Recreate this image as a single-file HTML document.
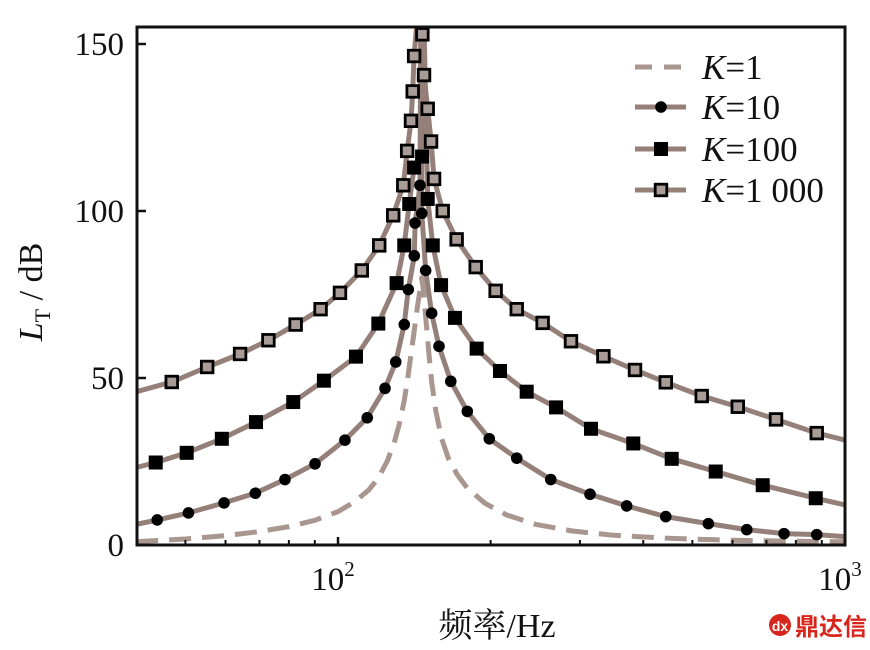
<!DOCTYPE html>
<html><head><meta charset="utf-8"><style>
html,body{margin:0;padding:0;background:#fff;}
svg{display:block;font-family:"Liberation Serif","Noto Serif CJK SC",serif;}
</style></head><body>
<svg id="chart" width="870" height="650" viewBox="0 0 870 650">
<defs><clipPath id="plotclip"><rect x="137" y="27" width="708" height="518"/></clipPath></defs>
<g id="series" clip-path="url(#plotclip)"></g>
<rect x="137" y="27" width="708" height="518" fill="none" stroke="#111" stroke-width="3"/>
<g id="axes"></g>
<text x="497" y="637" font-size="34" text-anchor="middle" fill="#111">频率/Hz</text>
<text transform="translate(42,292) rotate(-90)" font-size="34" text-anchor="middle" fill="#111"><tspan font-style="italic">L</tspan><tspan font-size="22" dy="8">T</tspan><tspan dy="-8"> / dB</tspan></text>
<g id="legend"></g>
<g>
<circle cx="780" cy="625" r="11" fill="#d9261c"/>
<text x="780" y="631" font-size="14" text-anchor="middle" fill="#fff" font-family="Liberation Sans, sans-serif" font-weight="bold">dx</text>
<text x="795" y="635" font-size="24" fill="#d9261c" font-weight="bold" font-family="Liberation Sans, Noto Sans CJK SC, sans-serif">鼎达信</text>
</g>
</svg>
<script>
const xTicks = [100, 1000];
const xTickLabels = ["10", "10"];
const yTicks = [0, 50, 100, 150];
const yTickLabels = ["0", "50", "100", "150"];
const minorTicks = [50, 60, 70, 80, 90, 200, 300, 400, 500, 600, 700, 800, 900];

const k1Freq = [40, 50, 60, 70, 80, 90, 100, 108, 115, 120, 125, 129, 132, 135, 137, 139, 141, 143, 145, 146.2, 147.5, 149, 151, 153, 156, 160, 165, 172, 180, 195, 215, 245, 290, 350, 450, 600, 800, 1000];
const k1Vals = [1.0, 1.8, 2.8, 4.0, 5.5, 7.4, 10.0, 13.0, 16.5, 20.0, 25.0, 30.5, 36.0, 43.0, 49.0, 56.0, 63.0, 70.0, 76.0, 80, 76.0, 68.0, 58.0, 49.0, 40.0, 32.0, 26.0, 21.0, 17.0, 12.5, 9.0, 6.2, 4.2, 2.9, 2.0, 1.4, 1.1, 1.0];

const k10Freq = [44.0, 50.7, 59.6, 68.7, 78.6, 90.1, 103.2, 114.2, 123.8, 130.0, 135.1, 137.6, 141.4, 141.9, 145.1, 146.3, 148.9, 153.0, 158.2, 166.9, 179.9, 198.8, 225.2, 262.8, 314.1, 371.0, 443.1, 537.6, 640.1, 758.1, 879.6];
const k10Vals = [7.5, 9.6, 12.6, 15.5, 19.6, 24.3, 31.4, 38.1, 46.9, 54.8, 66.0, 76.5, 86.6, 96.4, 107.7, 99.3, 82.2, 69.4, 59.5, 49.0, 40.0, 31.8, 26.0, 19.6, 15.2, 11.7, 8.5, 6.4, 4.6, 3.4, 3.1];
const k10Edge = [6.2, 2.5];

const k100Freq = [43.7, 50.3, 59.0, 68.9, 81.6, 93.8, 108.5, 120.1, 130.5, 135.1, 138.2, 141.3, 146.5, 150.3, 153.8, 159.7, 170.1, 187.7, 208.7, 235.6, 269.2, 315.5, 382.3, 455.2, 555.9, 688.2, 875.6];
const k100Vals = [24.7, 27.6, 31.8, 36.8, 42.8, 49.2, 56.4, 66.3, 78.4, 89.7, 102.1, 113.0, 116.3, 103.6, 89.7, 77.8, 68.0, 58.8, 52.1, 45.9, 41.2, 34.8, 30.4, 25.8, 22.0, 17.9, 14.0];
const k100Edge = [23.2, 12.0];

const k1000Freq = [47.0, 55.2, 64.1, 72.9, 82.5, 92.4, 100.9, 111.4, 120.6, 128.5, 134.5, 136.9, 139.3, 140.4, 141.3, 146.7, 147.8, 150.3, 152.6, 154.7, 160.9, 171.4, 186.9, 204.6, 225.2, 253.3, 288.1, 333.8, 385.3, 443.1, 521.7, 614.5, 731.0, 879.6];
const k1000Vals = [48.8, 53.3, 57.2, 61.3, 66.0, 70.6, 75.5, 82.2, 89.7, 98.7, 107.7, 118.0, 127.0, 135.8, 146.4, 152.9, 140.7, 130.6, 120.8, 109.6, 100.0, 91.5, 83.2, 76.1, 70.6, 66.5, 61.0, 56.5, 52.4, 48.7, 44.6, 41.4, 37.6, 33.5];
const k1000Edge = [45.9, 31.4];

const legendLabels = ["1", "10", "100", "1 000"];

const X0 = 338, DEC = 507, Y0 = 545, YS = 167 / 50;
function xScale(f) { return X0 + (Math.log10(f) - 2) * DEC; }
function yScale(v) { return Y0 - v * YS; }
const NS = "http://www.w3.org/2000/svg";
function mk(tag, attrs, parent) {
  const e = document.createElementNS(NS, tag);
  for (const k in attrs) e.setAttribute(k, attrs[k]);
  parent.appendChild(e);
  return e;
}
const LINE = "#948079";
const DASH = "#a8968f";
const seriesG = document.getElementById("series");
const axesG = document.getElementById("axes");
const legendG = document.getElementById("legend");

yTicks.forEach((t, i) => {
  const y = yScale(t);
  if (t > 0) {
    const tk = mk("line", {x1: 137, x2: 146, y1: y, y2: y, stroke: "#111", "stroke-width": 2.5}, axesG);
    
    
  }
  const lb = mk("text", {x: 124, y: y + 11, "font-size": 33, "text-anchor": "end", fill: "#111"}, axesG);
  lb.textContent = yTickLabels[i];
  
  
});
minorTicks.forEach(f => {
  const x = xScale(f);
  const tk = mk("line", {x1: x, x2: x, y1: 545, y2: 540, stroke: "#111", "stroke-width": 2}, axesG);
  
  
});
xTicks.forEach((t, i) => {
  const x = xScale(t);
  const tk = mk("line", {x1: x, x2: x, y1: 545, y2: 537, stroke: "#111", "stroke-width": 2.5}, axesG);
  
  
  const lb = mk("text", {x: x - 5, y: 590, "font-size": 33, "text-anchor": "middle", fill: "#111"}, axesG);
  lb.textContent = xTickLabels[i];
  const sup = document.createElementNS(NS, "tspan");
  sup.setAttribute("font-size", 21);
  sup.setAttribute("dy", -14);
  sup.textContent = String(Math.round(Math.log10(t)));
  lb.appendChild(sup);
  
  
});

function pathFrom(freqs, vals) {
  return freqs.map((f, i) => (i ? "L" : "M") + xScale(f).toFixed(1) + "," + yScale(vals[i]).toFixed(1)).join(" ");
}
function buildLine(freqs, vals, edge, peakF) {
  const pts = freqs.map((f, i) => [f, vals[i]]);
  pts.push([peakF, 175]);
  if (edge) { pts.push([40, edge[0]]); pts.push([1000, edge[1]]); }
  pts.sort((a, b) => a[0] - b[0]);
  return pathFrom(pts.map(p => p[0]), pts.map(p => p[1]));
}

const l1 = mk("path", {d: pathFrom(k1Freq, k1Vals), fill: "none", stroke: DASH, "stroke-width": 5, "stroke-dasharray": "22 11", "stroke-linejoin": "round"}, seriesG);



const defs = [
  {name: "k10", f: k10Freq, v: k10Vals, e: k10Edge, p: 145.8, m: "circle"},
  {name: "k100", f: k100Freq, v: k100Vals, e: k100Edge, p: 146.9, m: "filled"},
  {name: "k1000", f: k1000Freq, v: k1000Vals, e: k1000Edge, p: 146.5, m: "open"}
];
function marker(type, x, y, parent) {
  let e;
  if (type === "circle") e = mk("circle", {cx: x, cy: y, r: 5.8, fill: "#000"}, parent);
  else if (type === "filled") e = mk("rect", {x: x - 7, y: y - 7, width: 14, height: 14, fill: "#000"}, parent);
  else e = mk("rect", {x: x - 5.8, y: y - 5.8, width: 11.6, height: 11.6, fill: "#a99b95", stroke: "#000", "stroke-width": 2.8}, parent);
  return e;
}
defs.forEach(s => {
  const ln = mk("path", {d: buildLine(s.f, s.v, s.e, s.p), fill: "none", stroke: LINE, "stroke-width": 5, "stroke-linejoin": "round"}, seriesG);
  
  
});
defs.forEach(s => {
  s.f.forEach((f, i) => {
    const m = marker(s.m, xScale(f), yScale(s.v[i]), seriesG);
    
    
  });
});

const legY = [67, 107, 149, 190];
const legTypes = ["dash", "circle", "filled", "open"];
legendLabels.forEach((lab, i) => {
  const g = mk("g", {}, legendG);
  
  
  const y = legY[i];
  if (legTypes[i] === "dash") {
    mk("path", {d: `M635,${y} L686,${y}`, stroke: DASH, "stroke-width": 5, "stroke-dasharray": "17 12", fill: "none"}, g);
  } else {
    mk("path", {d: `M635,${y} L686,${y}`, stroke: LINE, "stroke-width": 5, fill: "none"}, g);
    marker(legTypes[i], 661, y, g);
  }
  const t = mk("text", {x: 702, y: y + 12, "font-size": 35, fill: "#111"}, g);
  const k = document.createElementNS(NS, "tspan");
  k.setAttribute("font-style", "italic");
  k.textContent = "K";
  t.appendChild(k);
  const r = document.createElementNS(NS, "tspan");
  r.textContent = "=" + lab;
  t.appendChild(r);
});
</script>
</body></html>
